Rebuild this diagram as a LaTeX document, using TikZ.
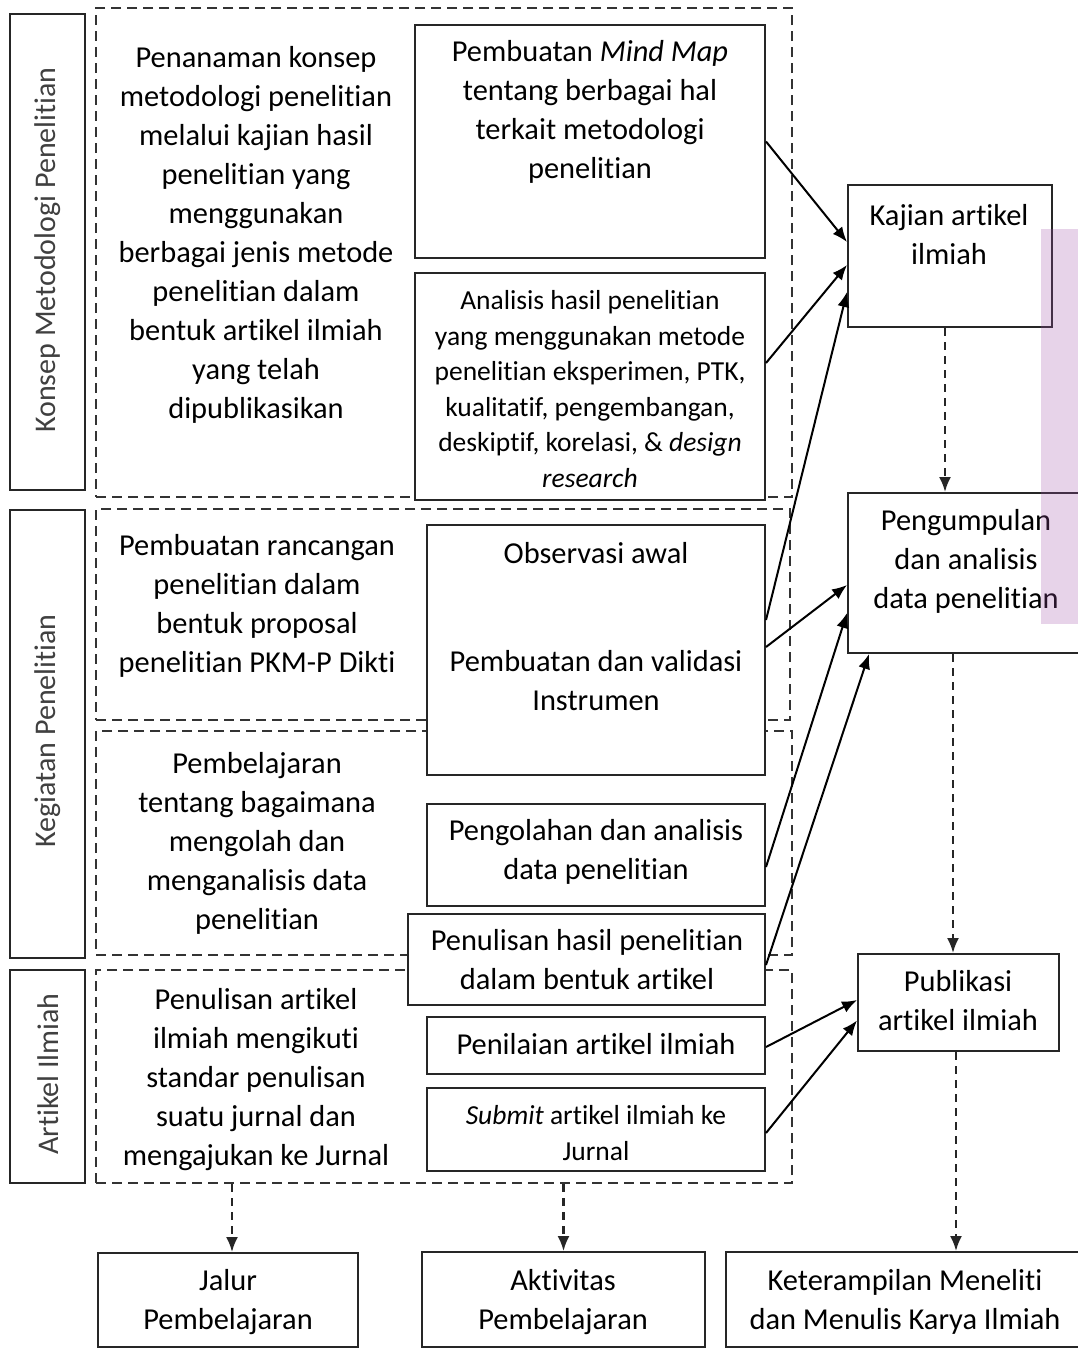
\documentclass[tikz,border=0pt]{standalone}
\usepackage{fontspec}
\setmainfont{Carlito}[Ligatures=NoCommon]
\usetikzlibrary{arrows.meta,calc}
\begin{document}
\begin{tikzpicture}[x=1pt,y=-1pt,
  box/.style={draw=black!85, line width=2pt, fill=white, inner sep=0pt},
  region/.style={draw=black!80, line width=2.2pt, dash pattern=on 10pt off 6pt, inner sep=0pt},
  txt/.style={font=\fontsize{30.4}{39}\selectfont, align=center, text=black, inner sep=0pt},
  stxt/.style={font=\fontsize{27.5}{35.6}\selectfont, align=center, text=black, inner sep=0pt},
  vtxt/.style={font=\fontsize{30}{36}\selectfont, rotate=90, text=black!75, inner sep=0pt},
  arr/.style={draw=black, line width=2pt, -{Latex[length=15pt,width=12pt]}},
  darr/.style={draw=black!85, line width=2.2pt, dash pattern=on 8pt off 6pt, -{Latex[length=15pt,width=12pt]}}]
\useasboundingbox (0,0) rectangle (1077,1349);
\fill[white] (0,0) rectangle (1077,1349);

% dashed regions
\node[region, minimum width=696pt, minimum height=489pt] (r1) at (444,252.5) {};
\node[region, minimum width=694pt, minimum height=211pt] (r2) at (443,614.5) {};
\node[region, minimum width=696pt, minimum height=224pt] (r3) at (444,843) {};
\node[region, minimum width=696pt, minimum height=213pt] (r4) at (444,1076.5) {};

% side labels
\node[box, minimum width=75pt, minimum height=476pt] (lab1) at (47.5,252) {};
\node[box, minimum width=75pt, minimum height=448pt] (lab2) at (47.5,734) {};
\node[box, minimum width=75pt, minimum height=213pt] (lab3) at (47.5,1076.5) {};

% activity boxes
\node[box, minimum width=350pt, minimum height=233pt] (mind) at (590,141.5) {};
\node[box, minimum width=350pt, minimum height=227pt] (anal) at (590,386.5) {};
\node[box, minimum width=338pt, minimum height=250pt] (obs) at (596,650) {};
\node[box, minimum width=338pt, minimum height=102pt] (olah) at (596,855) {};
\node[box, minimum width=357pt, minimum height=91pt] (tulis) at (586.5,959.5) {};
\node[box, minimum width=338pt, minimum height=57pt] (nilai) at (596,1045.5) {};
\node[box, minimum width=338pt, minimum height=83pt] (submit) at (596,1129.5) {};

% outcome boxes
\node[box, minimum width=204pt, minimum height=142pt] (kaj) at (950,256) {};
\node[box, minimum width=237pt, minimum height=160pt] (kump) at (966.5,573) {};
\node[box, minimum width=201pt, minimum height=97pt] (pub) at (958.5,1002.5) {};
\node[box, minimum width=260pt, minimum height=94pt] (jalur) at (228,1300) {};
\node[box, minimum width=283pt, minimum height=95pt] (akt) at (563.5,1299.5) {};
\node[box, minimum width=359pt, minimum height=95pt] (ket) at (905.5,1299.5) {};

% texts
\node[vtxt] (v1) at (48,250) {Konsep Metodologi Penelitian};
\node[vtxt] (v2) at (48,731) {Kegiatan Penelitian};
\node[vtxt] (v3) at (48,1074) {Artikel Ilmiah};

\node[txt] (tr1) at (256,235) {Penanaman konsep\\metodologi penelitian\\melalui kajian hasil\\penelitian yang\\menggunakan\\berbagai jenis metode\\penelitian dalam\\bentuk artikel ilmiah\\yang telah\\dipublikasikan};
\node[txt] (tr2) at (257,606) {Pembuatan rancangan\\penelitian dalam\\bentuk proposal\\penelitian PKM-P Dikti};
\node[txt] (tr3) at (257,843) {Pembelajaran\\tentang bagaimana\\mengolah dan\\menganalisis data\\penelitian};
\node[txt] (tr4) at (256,1080) {Penulisan artikel\\ilmiah mengikuti\\standar penulisan\\suatu jurnal dan\\mengajukan ke Jurnal};

\node[txt] (tmind) at (590,112) {Pembuatan \textit{Mind Map}\\tentang berbagai hal\\terkait metodologi\\penelitian};
\node[stxt] (tanal) at (590,389) {Analisis hasil penelitian\\yang menggunakan metode\\penelitian eksperimen, PTK,\\kualitatif, pengembangan,\\deskiptif, korelasi, \& \textit{design}\\\textit{research}};
\node[txt] (tobs) at (596,553) {Observasi awal};
\node[txt] (tval) at (596,681) {Pembuatan dan validasi\\Instrumen};
\node[txt] (tolah) at (596,852) {Pengolahan dan analisis\\data penelitian};
\node[txt] (ttulis) at (587,960) {Penulisan hasil penelitian\\dalam bentuk artikel};
\node[txt] (tnilai) at (596,1044) {Penilaian artikel ilmiah};
\node[stxt] (tsub) at (596,1133) {\textit{Submit} artikel ilmiah ke\\Jurnal};

\node[txt] (tkaj) at (949,235) {Kajian artikel\\ilmiah};
\node[txt] (tkump) at (966,561) {Pengumpulan\\dan analisis\\data penelitian};
\node[txt] (tpub) at (958,1001) {Publikasi\\artikel ilmiah};
\node[txt] (tjal) at (228,1302) {Jalur\\Pembelajaran};
\node[txt] (takt) at (563,1302) {Aktivitas\\Pembelajaran};
\node[txt] (tket) at (905,1302) {Keterampilan Meneliti\\dan Menulis Karya Ilmiah};

% solid arrows
\draw[arr] (mind.east) -- ($(kaj.west)+(0,-14)$);
\draw[arr] ($(anal.east)+(0,-23.5)$) -- ($(kaj.west)+(0,9)$);
\draw[arr] ($(obs.east)+(0,-30)$) -- ($(kaj.west)+(0,36)$);
\draw[arr] ($(obs.east)+(0,-3)$) -- ($(kump.west)+(0,12)$);
\draw[arr] ($(olah.east)+(0,12)$) -- ($(kump.west)+(0,40)$);
\draw[arr] ($(tulis.east)+(0,5.5)$) -- ($(kump.south west)+(22,0)$);
\draw[arr] ($(nilai.east)+(0,1.5)$) -- ($(pub.west)+(0,-2.5)$);
\draw[arr] ($(submit.east)+(0,3.5)$) -- ($(pub.west)+(0,18)$);

% dashed arrows
\draw[darr] ($(kaj.south)+(-5,0)$) -- ($(kaj.south |- kump.north)+(-5,0)$);
\draw[darr] ($(pub.north |- kump.south)+(-5.5,0)$) -- ($(pub.north)+(-5.5,0)$);
\draw[darr] ($(pub.south)+(-2.5,0)$) -- ($(pub.south |- ket.north)+(-2.5,0)$);
\draw[darr] ($(r4.south -| jalur.north)+(4,0)$) -- ($(jalur.north)+(4,0)$);
\draw[darr] (r4.south -| akt.north) -- (akt.north);

% stray highlight
\fill[fill={rgb,255:red,160;green,80;blue,170}, fill opacity=0.25] (1041,229) rectangle (1080,624);
\end{tikzpicture}
\end{document}
